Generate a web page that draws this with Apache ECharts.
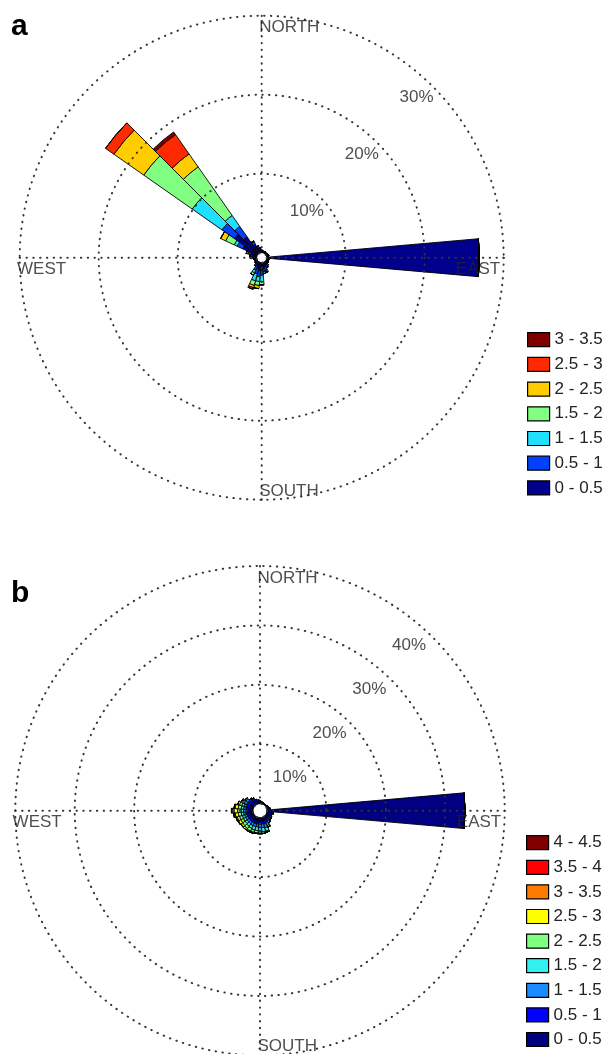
<!DOCTYPE html>
<html><head><meta charset="utf-8">
<script src="https://cdn.jsdelivr.net/npm/echarts@6/dist/echarts.min.js"></script>
<style>html,body{margin:0;padding:0;background:#fff}#c{width:607px;height:1054px}</style>
</head><body><div id="c"></div>
<script>
// ---------- data ----------
const directions = ['0','10','20','30','40','50','60','70','80','90','100','110','120','130','140','150','160','170',
  '180','190','200','210','220','230','240','250','260','270','280','290','300','310','320','330','340','350'];
const compassLabels = ['NORTH','EAST','SOUTH','WEST'];
const compassAngles = [0, 90, 180, 270];
const ringTicksA = [10, 20, 30];
const ringTicksB = [10, 20, 30, 40];

// panel a : speed classes (m/s) and frequency (%) per direction
const binsA = ['0 - 0.5','0.5 - 1','1 - 1.5','1.5 - 2','2 - 2.5','2.5 - 3','3 - 3.5'];
const colorsA = ['#00008c','#0040ff','#20e0ff','#80ff80','#ffcc00','#ff2a00','#800000'];
const a_0_05 = [0.3,0.2,0.2,0.2,0.2,0.2,0.2,0.3,0.2,26.9,0.2,0.3,0.3,0.4,0.4,0.5,0.6,0.8,1.0,1.0,0.8,0.6,0.4,0.3,0.3,0.3,0.4,0.5,0.6,0.8,2.0,3.6,2.6,1.2,0.6,0.5];
const a_05_1 = [0,0,0,0,0,0,0,0,0,0,0,0,0,0,0.2,0.3,0.5,0.4,0.6,0.8,0.7,0.5,0.3,0.1,0,0,0,0.3,0.3,0.4,0.8,1.9,1.6,0.4,0.3,0.1];
const a_1_15 = [0,0,0,0,0,0,0,0,0,0,0,0,0,0,0,0,0.2,0.2,0.8,0.6,0.9,0.4,0,0,0,0,0,0,0,0.2,0.4,4.6,1.7,0.1,0,0];
const a_15_2 = [0,0,0,0,0,0,0,0,0,0,0,0,0,0,0,0,0,0,0.4,0.5,0.6,0.3,0,0,0,0,0,0,0,0,1.2,7.5,7.5,0,0,0];
const a_2_25 = [0,0,0,0,0,0,0,0,0,0,0,0,0,0,0,0,0,0,0,0.4,0.3,0,0,0,0,0,0,0,0,0,0.7,4.6,2.0,0,0,0];
const a_25_3 = [0,0,0,0,0,0,0,0,0,0,0,0,0,0,0,0,0,0,0,0,0.2,0,0,0,0,0,0,0,0,0,0,1.3,3.0,0,0,0];
const a_3_35 = [0,0,0,0,0,0,0,0,0,0,0,0,0,0,0,0,0,0,0,0,0,0,0,0,0,0,0,0,0,0,0,0,0.4,0,0,0];

// panel b
const binsB = ['0 - 0.5','0.5 - 1','1 - 1.5','1.5 - 2','2 - 2.5','2.5 - 3','3 - 3.5','3.5 - 4','4 - 4.5'];
const colorsB = ['#000080','#0000ff','#1a8cff','#30f0f0','#80ff80','#ffff00','#ff7a00','#ff0000','#800000'];
const b_0_05 = [0.3,0.3,0.2,0.2,0.2,0.2,0.3,0.4,0.6,33.3,0.8,0.6,0.5,0.5,0.5,0.6,0.7,0.6,0.6,0.6,0.6,0.6,0.6,0.6,0.6,0.6,0.7,0.7,0.7,0.7,0.7,0.7,0.6,0.6,0.5,0.4];
const b_05_1 = [0.2,0,0,0,0,0,0,0,0,0,0.3,0.3,0.3,0.3,0.4,0.5,0.5,0.5,0.5,0.5,0.5,0.5,0.5,0.5,0.5,0.5,0.5,0.5,0.5,0.5,0.6,0.6,0.5,0.4,0.3,0.2];
const b_1_15 = [0,0,0,0,0,0,0,0,0,0,0,0,0.2,0.3,0.4,0.5,0.6,0.6,0.6,0.5,0.5,0.5,0.4,0.4,0.4,0.4,0.4,0.4,0.4,0.4,0.5,0.4,0.3,0.2,0,0];
const b_15_2 = [0,0,0,0,0,0,0,0,0,0,0,0,0,0,0,0.3,0.6,0.7,0.6,0.6,0.6,0.5,0.5,0.4,0.4,0.4,0.4,0.4,0.4,0.4,0.3,0.2,0,0,0,0];
const b_2_25 = [0,0,0,0,0,0,0,0,0,0,0,0,0,0,0,0,0.2,0.3,0.3,0.4,0.4,0.5,0.5,0.5,0.5,0.5,0.5,0.6,0.5,0.4,0.2,0,0,0,0,0];
const b_25_3 = [0,0,0,0,0,0,0,0,0,0,0,0,0,0,0,0,0,0,0.1,0.1,0.2,0.2,0.3,0.3,0.4,0.4,0.5,0.6,0.5,0.3,0,0,0,0,0,0];
const b_3_35 = [0,0,0,0,0,0,0,0,0,0,0,0,0,0,0,0,0,0,0,0,0,0,0,0.1,0.1,0.2,0.2,0.3,0.2,0,0,0,0,0,0,0];
const b_35_4 = [0,0,0,0,0,0,0,0,0,0,0,0,0,0,0,0,0,0,0,0,0,0,0,0,0,0,0.1,0.1,0,0,0,0,0,0,0,0];
const b_4_45 = [0,0,0,0,0,0,0,0,0,0,0,0,0,0,0,0,0,0,0,0,0,0,0,0,0,0,0,0.05,0,0,0,0,0,0,0,0];

const seriesDataA = [a_0_05,a_05_1,a_1_15,a_15_2,a_2_25,a_25_3,a_3_35];
const seriesDataB = [b_0_05,b_05_1,b_1_15,b_15_2,b_2_25,b_25_3,b_3_35,b_35_4,b_4_45];

// ---------- chart ----------
const FONT = '"Liberation Sans", Arial, Helvetica, sans-serif';
const TXT = '#222';
const dotted = {color:'#333', width:2, type:[0.4,6.4], cap:'round'};

const chart = echarts.init(document.getElementById('c'), null, {renderer:'canvas'});

function gridAxes(pi, max, interval){
  return {
    angle:{polarIndex:pi, type:'value', min:0, max:360, interval:90, startAngle:90, clockwise:true, z:10,
      axisLine:{show:false}, axisTick:{show:false}, axisLabel:{show:false},
      splitLine:{show:true, lineStyle:dotted}},
    radius:{polarIndex:pi, type:'value', min:0, max:max, interval:interval, z:10,
      axisLine:{show:false}, axisTick:{show:false}, axisLabel:{show:false},
      splitLine:{show:true, lineStyle:dotted}}
  };
}
function barAxes(pi, max){
  return {
    angle:{polarIndex:pi, type:'category', data:directions, startAngle:95, clockwise:true, boundaryGap:true,
      axisLine:{show:false}, axisTick:{show:false}, axisLabel:{show:false}, splitLine:{show:false}},
    radius:{polarIndex:pi, type:'value', min:0, max:max,
      axisLine:{show:false}, axisTick:{show:false}, axisLabel:{show:false}, splitLine:{show:false}}
  };
}
const gA = gridAxes(0, 30, 10), bA = barAxes(1, 30), gB = gridAxes(2, 40, 10), bB = barAxes(3, 40);

function barSeries(prefix, bins, colors, data, pi, stack){
  return bins.map((b,i)=>({
    name: prefix + '|' + b, type:'bar', coordinateSystem:'polar', polarIndex:pi, stack:stack,
    data: data[i], barCategoryGap:'0%', z:2, silent:true,
    itemStyle:{color:colors[i], borderColor:'#000', borderWidth:0.9}
  }));
}
function textSeries(pi, maxR, offsets, ringTicks, ringShift, ringAngle){
  const items = compassLabels.map((t,i)=>({
    value:[maxR, compassAngles[i]],
    label:{show:true, formatter:t, position:'inside', align:offsets[i][2], verticalAlign:offsets[i][3],
      offset:[offsets[i][0], offsets[i][1]], fontSize:17, fontFamily:FONT, color:TXT}
  }));
  ringTicks.forEach(v=>items.push({
    value:[v - ringShift, ringAngle],
    label:{show:true, formatter:v + '%', position:'inside', align:'center', verticalAlign:'middle',
      fontSize:17, fontFamily:FONT, color:TXT}
  }));
  return {type:'scatter', coordinateSystem:'polar', polarIndex:pi, symbolSize:1, z:12, silent:true,
    itemStyle:{color:'transparent'}, data:items};
}
const offsA = [[-2.5,2.7,'left','top'],[-3.5,2.7,'right','top'],[-2.5,0,'left','bottom'],[-2.7,2.7,'left','top']];
const offsB = [[-2.5,4,'left','top'],[-3.5,2.7,'right','top'],[-2.5,-1,'left','bottom'],[-2.7,2.7,'left','top']];

const legendCommon = {orient:'vertical', itemWidth:22, itemHeight:14, itemGap:7.7, icon:'rect', selectedMode:false,
  padding:0, formatter:n=>n.split('|')[1], textStyle:{fontSize:17, lineHeight:17, fontFamily:FONT, color:TXT},
  itemStyle:{borderColor:'#000', borderWidth:1.2}};

chart.setOption({
  animation:false,
  backgroundColor:'#fff',
  title:[
    {text:'a', left:11, top:12, padding:0, textStyle:{fontSize:30, fontWeight:'bold', fontFamily:FONT, color:'#000'}},
    {text:'b', left:11, top:579, padding:0, textStyle:{fontSize:30, fontWeight:'bold', fontFamily:FONT, color:'#000'}}
  ],
  polar:[
    {center:[261.7,257.7], radius:[5,242]},
    {center:[261.7,257.7], radius:[5,242]},
    {center:[260,810.7], radius:[7,244.7]},
    {center:[260,810.7], radius:[7,244.7]}
  ],
  angleAxis:[gA.angle, bA.angle, gB.angle, bB.angle],
  radiusAxis:[gA.radius, bA.radius, gB.radius, bB.radius],
  legend:[
    Object.assign({}, legendCommon, {left:527, top:331.2, data:binsA.map(b=>'a|'+b).reverse()}),
    Object.assign({}, legendCommon, {left:526, top:834.2, itemGap:7.6, data:binsB.map(b=>'b|'+b).reverse()})
  ],
  series:[
    ...barSeries('a', binsA, colorsA, seriesDataA, 1, 'A'),
    ...barSeries('b', binsB, colorsB, seriesDataB, 3, 'B'),
    textSeries(0, 30, offsA, ringTicksA, 2.4, 44),
    textSeries(2, 40, offsB, ringTicksB, 3.7, 42)
  ]
});
</script>
</body></html>
